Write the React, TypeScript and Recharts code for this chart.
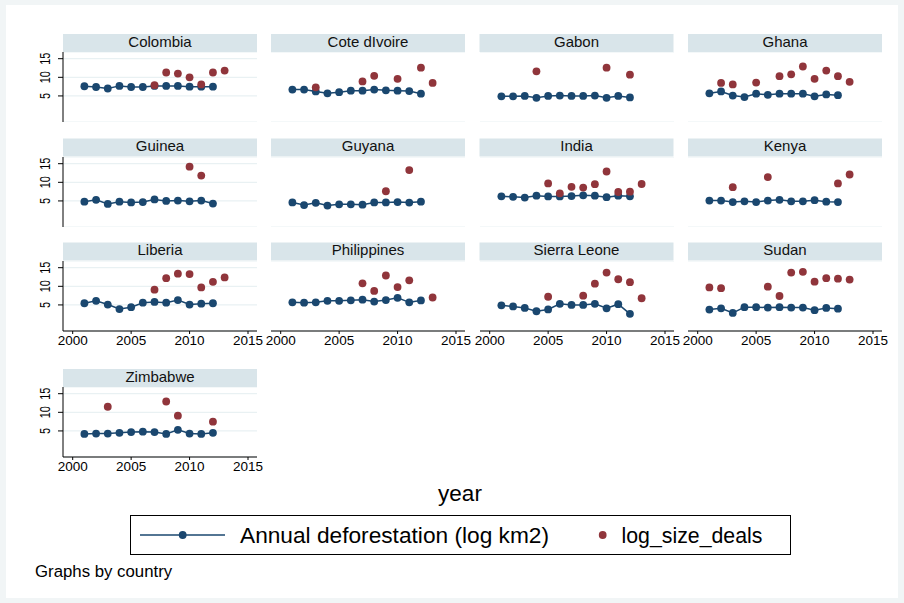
import React from "react";
import { ComposedChart, Line, Scatter, XAxis, YAxis, CartesianGrid } from "recharts";

// years covered; deforestation runs 2001-2012, deals up to 2013
const years = [2001, 2002, 2003, 2004, 2005, 2006, 2007, 2008, 2009, 2010, 2011, 2012, 2013];

const countries = [
  "Colombia", "Cote dIvoire", "Gabon", "Ghana",
  "Guinea", "Guyana", "India", "Kenya",
  "Liberia", "Philippines", "Sierra Leone", "Sudan",
  "Zimbabwe",
];

// Annual deforestation (log km2), 2001-2012
const colombiaDefor = [7.6, 7.4, 7.0, 7.7, 7.4, 7.4, 7.7, 7.7, 7.7, 7.5, 7.5, 7.5];
const coteDivoireDefor = [6.7, 6.7, 6.2, 5.7, 6.0, 6.4, 6.4, 6.7, 6.5, 6.4, 6.3, 5.6];
const gabonDefor = [4.9, 4.9, 5.0, 4.5, 5.0, 5.1, 5.0, 5.0, 5.1, 4.5, 5.0, 4.6];
const ghanaDefor = [5.7, 6.2, 5.1, 4.7, 5.6, 5.3, 5.6, 5.6, 5.6, 4.9, 5.4, 5.2];
const guineaDefor = [4.8, 5.3, 4.2, 4.8, 4.6, 4.7, 5.4, 5.0, 5.1, 4.9, 5.1, 4.3];
const guyanaDefor = [4.6, 3.9, 4.5, 3.75, 4.1, 4.1, 4.0, 4.6, 4.6, 4.7, 4.55, 4.8];
const indiaDefor = [6.25, 6.1, 5.9, 6.4, 6.2, 6.2, 6.3, 6.5, 6.4, 6.0, 6.4, 6.25];
const kenyaDefor = [5.1, 5.1, 4.7, 4.9, 4.7, 5.1, 5.3, 4.9, 4.9, 5.2, 4.8, 4.7];
const liberiaDefor = [5.45, 6.1, 5.1, 3.9, 4.4, 5.6, 5.8, 5.6, 6.3, 5.1, 5.35, 5.45];
const philippinesDefor = [5.7, 5.6, 5.7, 6.1, 6.1, 6.25, 6.4, 5.9, 6.3, 6.9, 5.7, 6.2];
const sierraLeoneDefor = [4.9, 4.6, 4.2, 3.3, 3.8, 5.3, 5.0, 5.0, 5.3, 4.1, 5.2, 2.6];
const sudanDefor = [3.75, 4.1, 2.85, 4.4, 4.4, 4.3, 4.4, 4.3, 4.3, 3.6, 4.2, 4.0];
const zimbabweDefor = [4.2, 4.3, 4.3, 4.5, 4.7, 4.8, 4.7, 4.2, 5.3, 4.3, 4.2, 4.5];

// log_size_deals, 2001-2013 (null = no deal that year)
const _ = null;
const colombiaDeals = [_, _, _, _, _, _, 7.9, 11.3, 11.0, 10.0, 8.1, 11.3, 11.8];
const coteDivoireDeals = [_, _, 7.3, _, _, _, 8.9, 10.4, _, 9.6, _, 12.6, 8.5];
const gabonDeals = [_, _, _, 11.6, _, _, _, _, _, 12.6, _, 10.7, _];
const ghanaDeals = [_, 8.5, 8.1, _, 8.6, _, 10.3, 10.8, 12.9, 9.6, 11.8, 10.3, 8.8];
const guineaDeals = [_, _, _, _, _, _, _, _, _, 14.2, 11.8, _, _];
const guyanaDeals = [_, _, _, _, _, _, _, _, 7.6, _, 13.3, _, _];
const indiaDeals = [_, _, _, _, 9.7, 7.05, 8.8, 8.6, 9.5, 12.9, 7.4, 7.5, 9.55];
const kenyaDeals = [_, _, 8.7, _, _, 11.4, _, _, _, _, _, 9.7, 12.1];
const liberiaDeals = [_, _, _, _, _, _, 9.1, 12.2, 13.4, 13.3, 9.7, 11.2, 12.4];
const philippinesDeals = [_, _, _, _, _, _, 10.8, 8.75, 12.9, 9.8, 11.6, _, 7.0];
const sierraLeoneDeals = [_, _, _, _, 7.2, _, _, 7.5, 10.7, 13.7, 11.9, 11.1, 6.8];
const sudanDeals = [9.7, 9.5, _, _, _, 9.9, 7.4, 13.7, 13.9, 11.25, 12.2, 12.05, 11.8];
const zimbabweDeals = [_, _, 11.5, _, _, _, _, 12.9, 9.1, _, _, 7.5, _];

const deforByCountry = [
  colombiaDefor, coteDivoireDefor, gabonDefor, ghanaDefor,
  guineaDefor, guyanaDefor, indiaDefor, kenyaDefor,
  liberiaDefor, philippinesDefor, sierraLeoneDefor, sudanDefor,
  zimbabweDefor,
];
const dealsByCountry = [
  colombiaDeals, coteDivoireDeals, gabonDeals, ghanaDeals,
  guineaDeals, guyanaDeals, indiaDeals, kenyaDeals,
  liberiaDeals, philippinesDeals, sierraLeoneDeals, sudanDeals,
  zimbabweDeals,
];

const xTicks = [2000, 2005, 2010, 2015];
const yTicks = [5, 10, 15];

const NAVY = "#1a476f";
const MAROON = "#90353b";
const STRIP = "#d9e5ea";
const GRID = "#e9f1f3";
const FONT = '"Liberation Sans", Arial, Helvetica, sans-serif';

// panel grid
const colLeft = [63, 271, 479.5, 688];
const rowTop = [34, 138.5, 242.5, 369];
const PANEL_W = 194;
const STRIP_H = 18;
const PLOT_H = 70;
const Y_AXIS_W = 40;
const X_AXIS_H = 24;
const RIGHT_PAD = 16;
const DOT_R = 3.9;

const YTick = (props: any) => {
  const { x, y, payload } = props;
  return (
    <text
      transform={`translate(${x - 6},${y}) rotate(-90) scale(0.75,1)`}
      textAnchor="middle"
      fontSize={14.5}
      fill="#000"
    >
      {payload.value}
    </text>
  );
};

const dealDot = (p: any) =>
  p.cx == null || p.cy == null ? null : (
    <circle key={`d-${p.cx}`} cx={p.cx} cy={p.cy} r={DOT_R} fill={MAROON} />
  );

function Panel({ index }: { index: number }) {
  const row = Math.floor(index / 4);
  const col = index % 4;
  const showX = row >= 2;
  const showY = col === 0;
  const defor = deforByCountry[index];
  const deals = dealsByCountry[index];

  const data = years.map((year, i) => ({
    year,
    defor: i < defor.length ? defor[i] : null,
  }));
  const dealData = years
    .map((year, i) => ({ year, deal: deals[i] }))
    .filter((d) => d.deal != null);

  return (
    <div
      style={{
        position: "absolute",
        left: colLeft[col] - Y_AXIS_W,
        top: rowTop[row] + STRIP_H,
      }}
    >
      <ComposedChart
        width={Y_AXIS_W + PANEL_W + RIGHT_PAD}
        height={PLOT_H + (showX ? X_AXIS_H : 0)}
        data={data}
        margin={{ top: 0, right: RIGHT_PAD, bottom: 0, left: 0 }}
      >
        <CartesianGrid vertical={false} stroke={GRID} strokeWidth={1.2} />
        <XAxis
          type="number"
          dataKey="year"
          domain={[1999.17, 2015.77]}
          ticks={xTicks}
          interval={0}
          hide={!showX}
          height={X_AXIS_H}
          axisLine={{ stroke: "#000" }}
          tickLine={{ stroke: "#000" }}
          tickSize={3}
          tickMargin={1}
          tick={{ fill: "#000", fontSize: 13.5 }}
          allowDataOverflow
        />
        <YAxis
          type="number"
          domain={[-2, 16.8]}
          ticks={yTicks}
          interval={0}
          width={Y_AXIS_W}
          axisLine={showY ? { stroke: "#000" } : false}
          tickLine={showY ? { stroke: "#000" } : false}
          tickSize={5}
          tickMargin={2}
          tick={showY ? <YTick /> : false}
          allowDataOverflow
        />
        <Line
          dataKey="defor"
          stroke={NAVY}
          strokeWidth={1.5}
          dot={{ r: DOT_R, fill: NAVY, stroke: "none" }}
          isAnimationActive={false}
        />
        <Scatter
          data={dealData}
          dataKey="deal"
          fill={MAROON}
          shape={dealDot}
          isAnimationActive={false}
        />
      </ComposedChart>
    </div>
  );
}

export default function App() {
  return (
    <div
      style={{
        position: "absolute",
        left: 0,
        top: 0,
        width: 904,
        height: 603,
        fontFamily: FONT,
        background: "#fff",
      }}
    >
      <svg width={904} height={603} style={{ position: "absolute", left: 0, top: 0 }}>
        <rect x={0} y={0} width={904} height={603} fill="#f1f5f6" />
        <rect x={6} y={5} width={892} height={593} fill="#fff" />
        {countries.map((name, i) => {
          const row = Math.floor(i / 4);
          const col = i % 4;
          return (
            <g key={name}>
              <rect x={colLeft[col]} y={rowTop[row]} width={PANEL_W} height={STRIP_H} fill={STRIP} />
              <text
                x={colLeft[col] + PANEL_W / 2}
                y={rowTop[row] + 12.8}
                textAnchor="middle"
                fontSize={15}
                fill="#111"
              >
                {name}
              </text>
            </g>
          );
        })}

        <text x={460} y={501} textAnchor="middle" fontSize={22.5} fill="#000">
          year
        </text>

        {/* legend */}
        <rect x={130.5} y={515.5} width={660} height={39} fill="#fff" stroke="#000" strokeWidth={1} />
        <line x1={140} y1={535} x2={225} y2={535} stroke={NAVY} strokeWidth={1.5} />
        <circle cx={182.7} cy={535} r={DOT_R} fill={NAVY} />
        <text x={240} y={543} fontSize={22.7} fill="#000">
          Annual deforestation (log km2)
        </text>
        <circle cx={602.7} cy={535} r={DOT_R} fill={MAROON} />
        <text x={621.5} y={543} fontSize={21.3} fill="#000">
          log_size_deals
        </text>

        <text x={35} y={577} fontSize={16.8} fill="#000">
          Graphs by country
        </text>
      </svg>
      {countries.map((name, i) => (
        <Panel key={name} index={i} />
      ))}
    </div>
  );
}
